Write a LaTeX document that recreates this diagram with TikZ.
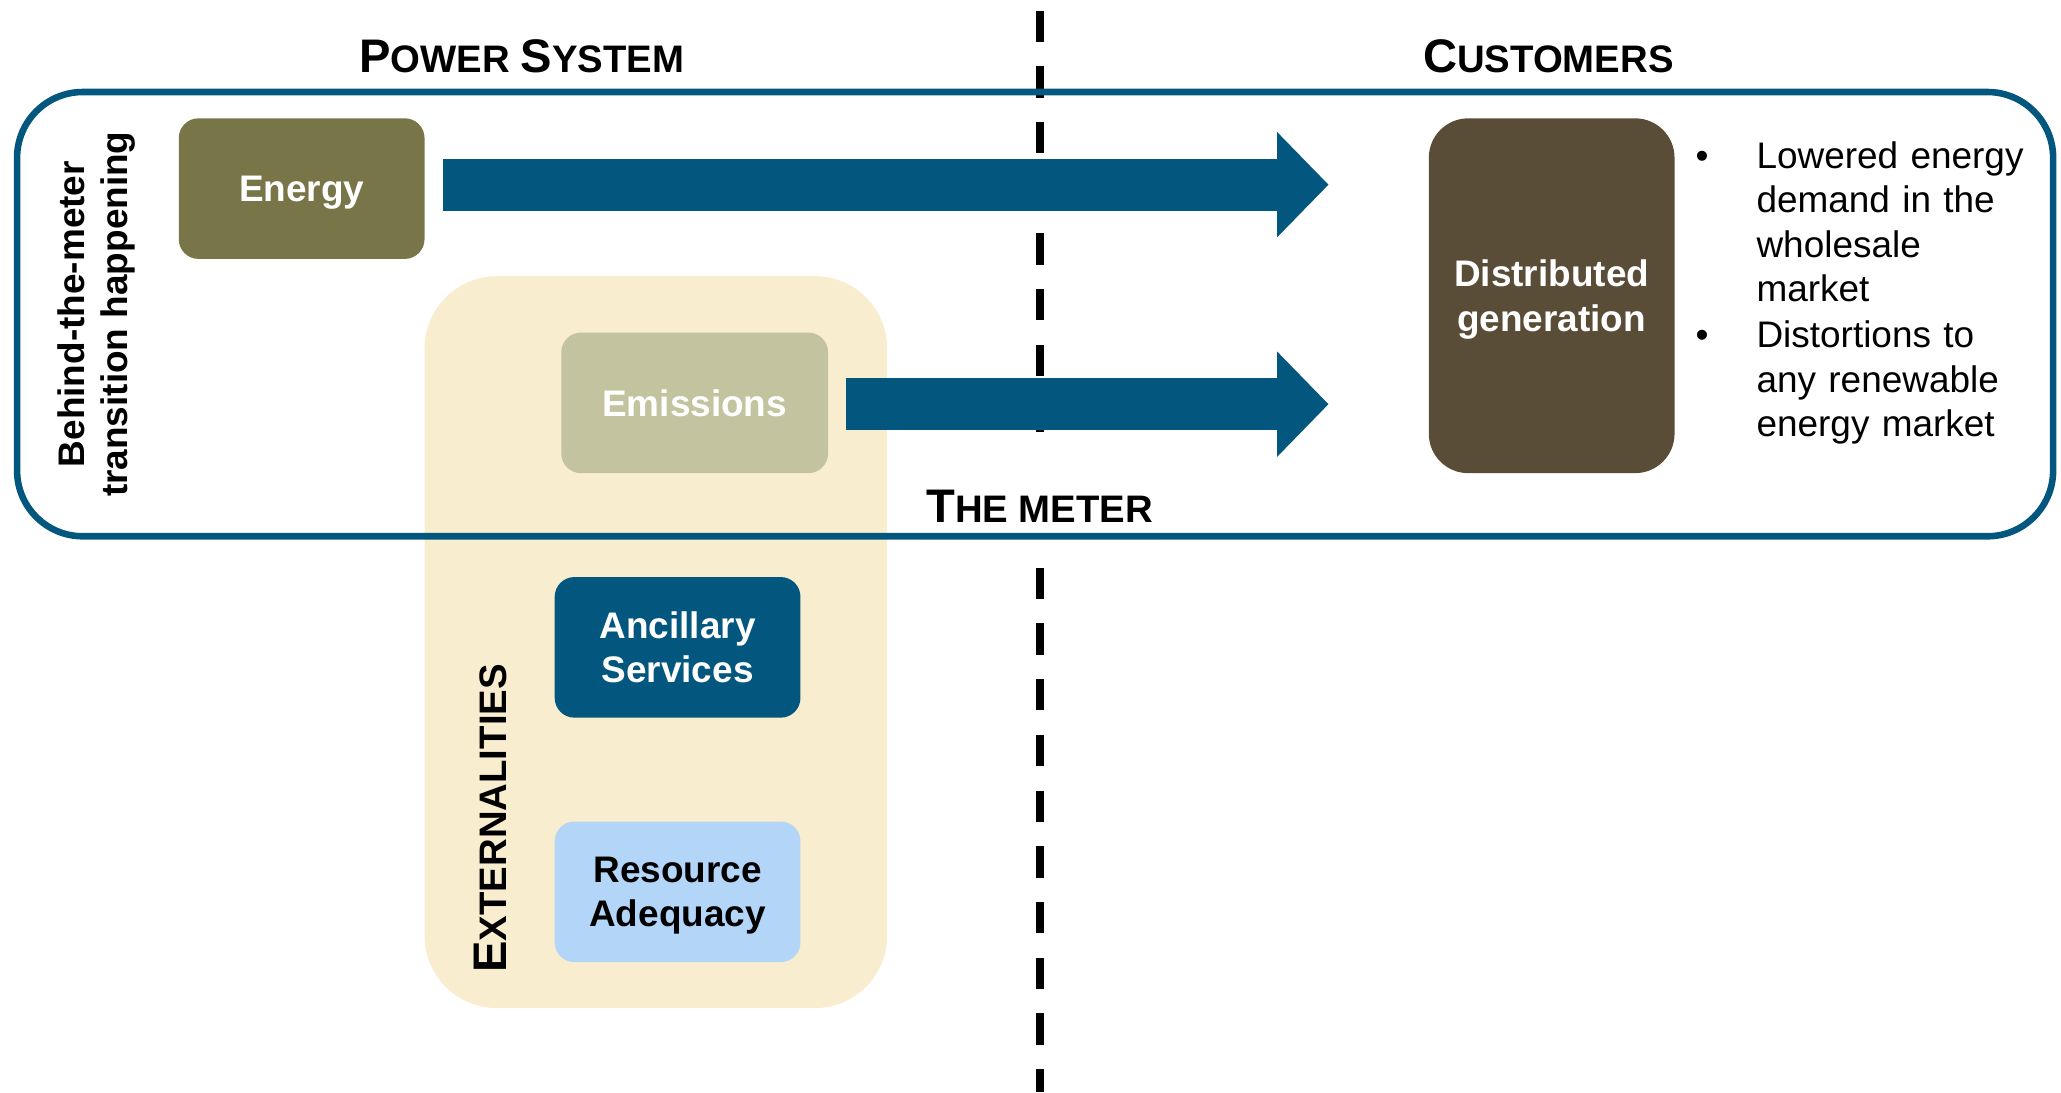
\documentclass[tikz,border=0pt]{standalone}
\usepackage{fontspec}
\setmainfont{Liberation Sans}
\usetikzlibrary{arrows.meta,calc,positioning}
\definecolor{meterblue}{HTML}{03577F}
\definecolor{energyolive}{HTML}{787549}
\definecolor{emissiongreen}{HTML}{C3C3A0}
\definecolor{extcream}{HTML}{F9EDCF}
\definecolor{dgbrown}{HTML}{5A4D37}
\definecolor{adequacyblue}{HTML}{B3D5F8}
\tikzset{>=stealth}
\newcommand{\capsbig}[1]{{\fontsize{20.4}{24}\selectfont #1}}
\newcommand{\nodesc}[1]{\raisebox{0pt}[\height][0pt]{#1}}
\tikzset{
	box/.style={rounded corners=0.3cm, minimum width=3.74cm, minimum height=2.14cm,
		align=center, inner sep=0pt, font=\fontsize{16}{19.3}\selectfont\bfseries},
	heading/.style={anchor=base, inner sep=0pt, font=\fontsize{16.6}{20}\selectfont\bfseries},
	flow/.style={draw=meterblue, line width=0.794cm,
		-{Triangle[length=0.78cm, width=1.6cm, line width=0pt]}},
	listtext/.style={anchor=base west, text width=5cm, align=left, inner sep=0pt,
		font=\fontsize{16}{19.3}\selectfont},
	bulletdot/.style={anchor=base, inner sep=0pt, font=\fontsize{16}{19.3}\selectfont}
}
\begin{document}
\begin{tikzpicture}[x=0.02cm, y=-0.02cm]
	\useasboundingbox (0,0) rectangle (1568,831);

	% externalities
	\node[fill=extcream, rounded corners=1.1cm, minimum width=7.04cm,
		minimum height=11.14cm, inner sep=0pt] (extbg) at (499,488.5) {};
	\node[heading, rotate=90] (ext) at (385,622.6) {\capsbig{E}XTERNALITIES};

	% the meter
	\coordinate (metertop) at (791,8);
	\coordinate (meterbottom) at (791,831);
	\draw[line width=0.12cm, dash pattern=on 0.476cm off 0.372cm] (metertop) -- (meterbottom);
	\node[heading, fill=white, inner xsep=2pt, inner ysep=0.6cm] (meter) at (791,397.6)
		{\capsbig{T}HE METER};

	\draw[meterblue, line width=0.1cm, rounded corners=1cm] (13,70) rectangle (1562,408);

	\node[heading] (power) at (397,55) {\capsbig{P}OWER \capsbig{S}YSTEM};
	\node[heading] (customers) at (1178,55) {\capsbig{C}USTOMERS};
	\node[rotate=90, align=center, font=\fontsize{16}{18.7}\selectfont\bfseries] (btm)
		at (73.5,239) {Behind-the-meter\\transition happening};

	\node[box, fill=energyolive, text=white] (energy) at (229.5,143.5) {\nodesc{Energy}};
	\node[box, fill=emissiongreen, text=white, minimum width=4.06cm] (emissions)
		at (528.5,306.5) {Emissions};
	\node[box, fill=meterblue, text=white] (ancillary) at (515.5,492.5) {Ancillary\\Services};
	\node[box, fill=adequacyblue] (adequacy) at (515.5,678.5) {Resource\\\nodesc{Adequacy}};
	\node[box, fill=dgbrown, text=white, minimum height=5.4cm, rounded corners=0.6cm]
		(distgen) at (1180.5,225) {Distributed\\\nodesc{generation}};

	\draw[flow] ($(energy.east)+(14,-3)$) -- ($(energy.east -| distgen.west)+(-76,-3)$);
	\draw[flow] ($(emissions.east)+(13,1)$) -- ($(emissions.east -| distgen.west)+(-76,1)$);

	\node[listtext] (lowered) at (1336,128) {Lowered energy\\demand in the\\wholesale\\market};
	\node[listtext] (distortions) at (1336,264.5) {Distortions to\\any renewable\\energy market};
	\node[bulletdot] (dot1) at (1295,128) {\textbullet};
	\node[bulletdot] (dot2) at (1295,264.5) {\textbullet};

\end{tikzpicture}
\end{document}
